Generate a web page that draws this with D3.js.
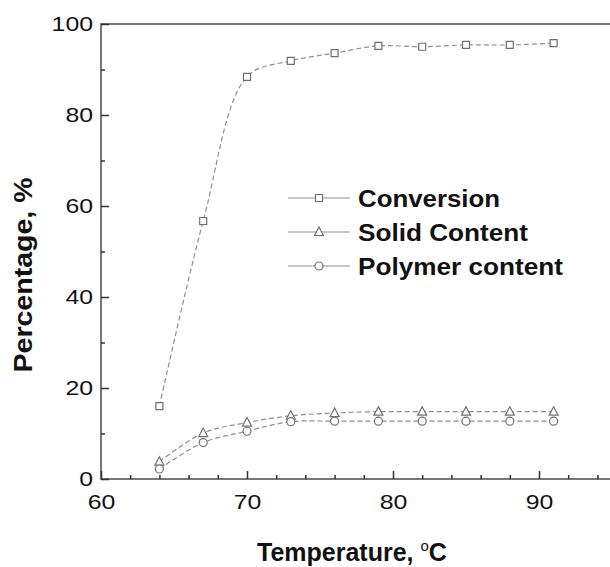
<!DOCTYPE html>
<html>
<head>
<meta charset="utf-8">
<script src="https://cdn.jsdelivr.net/npm/d3@7"></script>
<style>
  body { margin: 0; background: #fff; }
  text { font-family: "Liberation Sans", Arial, sans-serif; }
</style>
</head>
<body>
<svg id="chart" width="610" height="567"></svg>
<script>
const temps = [64, 67, 70, 73, 76, 79, 82, 85, 88, 91]
const conversion = [16, 56.7, 88.4, 91.9, 93.6, 95.2, 95, 95.4, 95.4, 95.8]
const solidContent = [3.8, 10.1, 12.4, 13.9, 14.5, 14.8, 14.8, 14.8, 14.8, 14.8]
const polymerContent = [2.2, 8, 10.5, 12.6, 12.7, 12.7, 12.7, 12.7, 12.7, 12.7]
const seriesNames = ['Conversion', 'Solid Content', 'Polymer content']
const xTicks = [60, 70, 80, 90]
const yTicks = [0, 20, 40, 60, 80, 100]

const svg = d3.select('#chart')
const plotLeft = 101, plotTop = 24, plotRight = 612, plotBottom = 479

const x = d3.scaleLinear().domain([60, 95]).range([plotLeft, plotRight])
const y = d3.scaleLinear().domain([0, 100]).range([plotBottom, plotTop])

const lineColor = '#8f8f8f'
const markColor = '#707070'

// frame
svg.append('rect')
   .attr('x', plotLeft).attr('y', plotTop)
   .attr('width', plotRight - plotLeft).attr('height', plotBottom - plotTop)
   .attr('fill', 'none').attr('stroke', '#555').attr('stroke-width', 1.6)

// inward ticks, labels are a bit wide in the original so stretch them
const xAxis = svg.append('g').attr('transform', `translate(0,${plotBottom})`)
  .call(d3.axisBottom(x).tickValues(d3.range(62, 96, 2).filter(d => d % 10 !== 0)).tickSize(-4).tickFormat(''))
xAxis.append('g').call(d3.axisBottom(x).tickValues(xTicks).tickSize(-8).tickPadding(12).tickFormat(d3.format('d')))
svg.selectAll('.domain').remove()

const yAxis = svg.append('g').attr('transform', `translate(${plotLeft},0)`)
  .call(d3.axisLeft(y).tickValues(d3.range(10, 100, 20)).tickSize(-4).tickFormat(''))
yAxis.append('g').call(d3.axisLeft(y).tickValues(yTicks).tickSize(-8).tickPadding(8).tickFormat(d3.format('d')))
svg.selectAll('.domain').remove()
svg.selectAll('.tick line').attr('stroke', '#333').attr('stroke-width', 1.5)
svg.selectAll('.tick text')
   .attr('fill', '#111').style('font-size', '21px')
   .attr('textLength', function() { return this.textContent.length * 13.8 })
   .attr('lengthAdjust', 'spacingAndGlyphs')
xAxis.selectAll('.tick text').attr('dy', '0.85em')

// axis titles
const xt = svg.append('text')
   .attr('x', 257).attr('y', 561)
   .style('font-size', '25px').style('font-weight', 'bold').attr('fill', '#111')
xt.append('tspan').text('Temperature, ')
xt.append('tspan').text('o').attr('dy', -10).style('font-size', '15px').style('font-weight', 'normal')
xt.append('tspan').text('C').attr('dy', 10)

svg.append('text')
   .attr('transform', 'translate(32,275) rotate(-90)')
   .attr('text-anchor', 'middle')
   .style('font-size', '25px').style('font-weight', 'bold').attr('fill', '#111')
   .attr('textLength', 195).attr('lengthAdjust', 'spacingAndGlyphs')
   .text('Percentage, %')

const line = d3.line().x(d => x(d[0])).y(d => y(d[1])).curve(d3.curveCatmullRom)

const symbolPath = {
  square: (cx, cy) => `M${cx-3.5},${cy-3.5}h7v7h-7Z`,
  triangle: (cx, cy) => `M${cx},${cy-5}L${cx+4.5},${cy+3.5}L${cx-4.5},${cy+3.5}Z`,
  circle: (cx, cy) => `M${cx-4},${cy}a4,4 0 1,0 8,0a4,4 0 1,0 -8,0`
}

const series = [
  { name: seriesNames[0], values: conversion, shape: 'square', dash: '5,3', textLen: 142 },
  { name: seriesNames[1], values: solidContent, shape: 'triangle', dash: '5,3', textLen: 170 },
  { name: seriesNames[2], values: polymerContent, shape: 'circle', dash: '5,3', textLen: 205 }
]

series.forEach(s => {
  const pts = temps.map((t, i) => [t, s.values[i]])
  svg.append('path')
     .attr('d', line(pts))
     .attr('fill', 'none')
     .attr('stroke', lineColor)
     .attr('stroke-width', 1.2)
     .attr('stroke-dasharray', s.dash)
  svg.append('g').selectAll('path').data(pts).join('path')
     .attr('d', d => symbolPath[s.shape](x(d[0]), y(d[1])))
     .attr('fill', '#fff')
     .attr('stroke', markColor)
     .attr('stroke-width', 1.2)
})

// legend
const legendRows = [198, 232, 266]
series.forEach((s, i) => {
  const ly = legendRows[i]
  const g = svg.append('g')
  g.append('line').attr('x1', 288).attr('x2', 350).attr('y1', ly).attr('y2', ly)
   .attr('stroke', lineColor).attr('stroke-width', 1.2)
  g.append('path').attr('d', symbolPath[s.shape](319, ly))
   .attr('fill', '#fff').attr('stroke', markColor).attr('stroke-width', 1.2)
  g.append('text').attr('x', 358).attr('y', ly + 9)
   .style('font-size', '23px').style('font-weight', 'bold').attr('fill', '#111')
   .attr('textLength', s.textLen).attr('lengthAdjust', 'spacingAndGlyphs')
   .text(s.name)
})
</script>
</body>
</html>
